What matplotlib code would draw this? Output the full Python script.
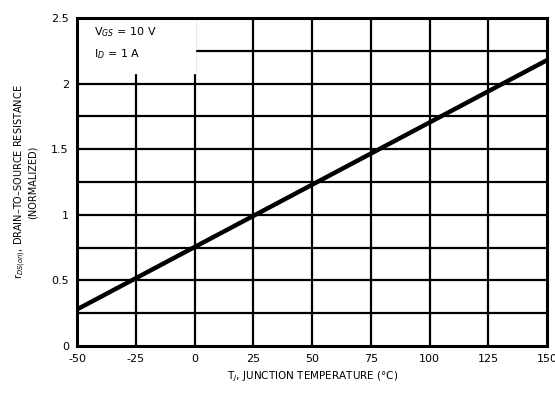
import matplotlib
matplotlib.use('Agg')
import matplotlib.pyplot as plt
import numpy as np

# junction temperature (C) and normalized on-resistance
temps = [-50, 150]
rds = [0.28, 2.18]

xticks = [-50, -25, 0, 25, 50, 75, 100, 125, 150]
yticks = [0, 0.5, 1, 1.5, 2, 2.5]
ylabels = ['0', '0.5', '1', '1.5', '2', '2.5']

fig = plt.figure(figsize=(5.55, 4.01), dpi=100)
ax = fig.add_axes([0.139, 0.137, 0.847, 0.818])

ax.set_xlim(-50, 150)
ax.set_ylim(0, 2.5)

# grid: every 25 deg, every 0.25 in y
for x in xticks[1:-1]:
    ax.axvline(x, color='black', lw=1.6, zorder=1)
for y in np.arange(0.25, 2.5, 0.25):
    ax.axhline(y, color='black', lw=1.6, zorder=1)

# white box for the conditions
ax.fill_between([-50, 0], 2.08, 2.5, color='white', zorder=2)
ax.text(-43, 2.37, 'V$_{GS}$ = 10 V', fontsize=8, zorder=3)
ax.text(-43, 2.2, 'I$_D$ = 1 A', fontsize=8, zorder=3)

ax.plot(temps, rds, color='black', lw=3.2, zorder=4)

for s in ax.spines.values():
    s.set_linewidth(2.2)

ax.set_xticks(xticks)
ax.set_xticklabels([str(t) for t in xticks], fontsize=8)
ax.set_yticks(yticks)
ax.set_yticklabels(ylabels, fontsize=8)
ax.tick_params(length=0, pad=6)

ax.set_xlabel('T$_J$, JUNCTION TEMPERATURE (°C)', fontsize=7.5, labelpad=4)
ax.set_ylabel('r$_{DS(on)}$, DRAIN–TO–SOURCE RESISTANCE\n(NORMALIZED)',
              fontsize=7, labelpad=10, linespacing=0.9)

fig.savefig('out.png', dpi=100)
